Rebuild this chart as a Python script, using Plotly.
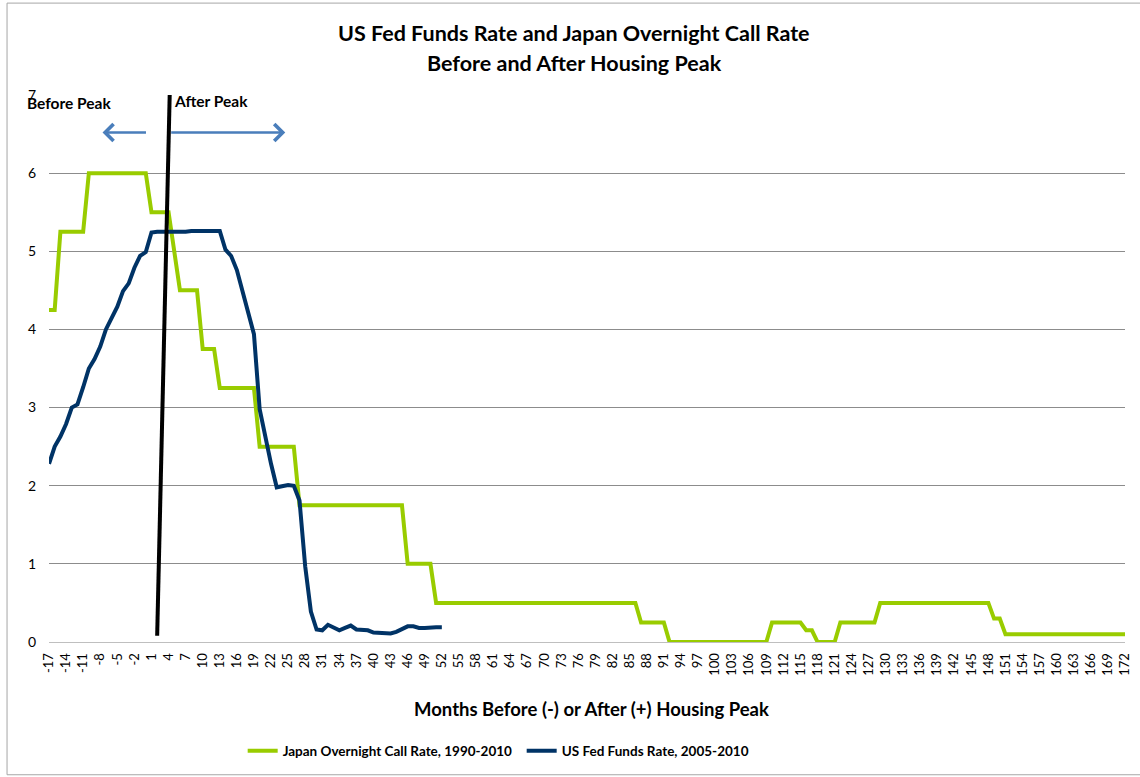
import plotly.graph_objects as go

# months relative to housing peak (0 = peak month)
months = list(range(-17, 173))

# Japan official / overnight call rate, 1990-2010 (%), one value per month from -17 to 172
japan_rate = [
    4.25, 4.25, 5.25, 5.25, 5.25, 5.25, 5.25, 6.0, 6.0, 6.0,
    6.0, 6.0, 6.0, 6.0, 6.0, 6.0, 6.0, 6.0, 5.5, 5.5,
    5.5, 5.5, 5.0, 4.5, 4.5, 4.5, 4.5, 3.75, 3.75, 3.75,
    3.25, 3.25, 3.25, 3.25, 3.25, 3.25, 3.25, 2.5, 2.5, 2.5,
    2.5, 2.5, 2.5, 2.5, 1.75, 1.75, 1.75, 1.75, 1.75, 1.75,
    1.75, 1.75, 1.75, 1.75, 1.75, 1.75, 1.75, 1.75, 1.75, 1.75,
    1.75, 1.75, 1.75, 1.0, 1.0, 1.0, 1.0, 1.0, 0.5, 0.5,
    0.5, 0.5, 0.5, 0.5, 0.5, 0.5, 0.5, 0.5, 0.5, 0.5,
    0.5, 0.5, 0.5, 0.5, 0.5, 0.5, 0.5, 0.5, 0.5, 0.5,
    0.5, 0.5, 0.5, 0.5, 0.5, 0.5, 0.5, 0.5, 0.5, 0.5,
    0.5, 0.5, 0.5, 0.5, 0.25, 0.25, 0.25, 0.25, 0.25, 0.0,
    0.0, 0.0, 0.0, 0.0, 0.0, 0.0, 0.0, 0.0, 0.0, 0.0,
    0.0, 0.0, 0.0, 0.0, 0.0, 0.0, 0.0, 0.25, 0.25, 0.25,
    0.25, 0.25, 0.25, 0.15, 0.15, 0.0, 0.0, 0.0, 0.0, 0.25,
    0.25, 0.25, 0.25, 0.25, 0.25, 0.25, 0.5, 0.5, 0.5, 0.5,
    0.5, 0.5, 0.5, 0.5, 0.5, 0.5, 0.5, 0.5, 0.5, 0.5,
    0.5, 0.5, 0.5, 0.5, 0.5, 0.5, 0.3, 0.3, 0.1, 0.1,
    0.1, 0.1, 0.1, 0.1, 0.1, 0.1, 0.1, 0.1, 0.1, 0.1,
    0.1, 0.1, 0.1, 0.1, 0.1, 0.1, 0.1, 0.1, 0.1, 0.1,
]

# US effective fed funds rate, Jan 2005 - Oct 2010 (%), months -17 to 52
us_months = list(range(-17, 53))
us_rate = [
    2.28, 2.50, 2.63, 2.79, 3.00, 3.04, 3.26, 3.50, 3.62, 3.78, 4.00, 4.16,
    4.29, 4.49, 4.59, 4.79, 4.94, 4.99, 5.24, 5.25, 5.25, 5.25, 5.25, 5.24,
    5.25, 5.26, 5.26, 5.25, 5.25, 5.25, 5.26, 5.02, 4.94, 4.76, 4.49, 4.24,
    3.94, 2.98, 2.61, 2.28, 1.98, 2.00, 2.01, 2.00, 1.81, 0.97, 0.39, 0.16,
    0.15, 0.22, 0.18, 0.15, 0.18, 0.21, 0.16, 0.16, 0.15, 0.12, 0.12, 0.12,
    0.11, 0.13, 0.16, 0.20, 0.20, 0.18, 0.18, 0.19, 0.19, 0.19,
]

tick_months = list(range(-17, 173, 3))
tick_labels = [str(m) for m in tick_months]

# hand-drawn peak marker and arrows (in month / rate units)
peak_line_x = [2.0, 4.2]
peak_line_y = [0.08, 7.0]
left_arrow_x = [0.3, -7.6]
right_arrow_x = [4.2, 24.5]
arrow_y = 6.52

GREEN = "#99CC00"
NAVY = "#003366"
FONT = "Lato, 'Open Sans', sans-serif"

fig = go.Figure()

fig.add_trace(
    go.Scatter(
        x=months,
        y=japan_rate,
        mode="lines",
        name="<b>Japan Overnight Call Rate, 1990-2010</b>",
        line=dict(color=GREEN, width=4),
    )
)
fig.add_trace(
    go.Scatter(
        x=us_months,
        y=us_rate,
        mode="lines",
        name="<b>US Fed Funds Rate, 2005-2010</b>",
        line=dict(color=NAVY, width=4),
    )
)

fig.add_shape(
    type="line",
    xref="x",
    yref="y",
    x0=peak_line_x[0],
    y0=peak_line_y[0],
    x1=peak_line_x[1],
    y1=peak_line_y[1],
    line=dict(color="black", width=4),
)

for tail, head in (left_arrow_x, right_arrow_x):
    fig.add_annotation(
        x=head,
        y=arrow_y,
        ax=tail,
        ay=arrow_y,
        xref="x",
        yref="y",
        axref="x",
        ayref="y",
        text="",
        showarrow=True,
        arrowhead=4,
        arrowsize=1.3,
        arrowwidth=2.5,
        arrowcolor="#4A7EBB",
    )

# chart border
fig.add_shape(
    type="rect",
    xref="paper",
    yref="paper",
    x0=-0.039,
    x1=1.03,
    y0=-0.2427,
    y1=1.168,
    line=dict(color="#A6A6A6", width=1),
)

fig.add_annotation(
    text="<b>US Fed Funds Rate and Japan Overnight Call Rate</b>",
    xref="paper", yref="paper", x=0.488, y=1.1131,
    xanchor="center", yanchor="middle", showarrow=False,
    font=dict(size=21.5, color="black", family=FONT),
)
fig.add_annotation(
    text="<b>Before and After Housing Peak</b>",
    xref="paper", yref="paper", x=0.488, y=1.0584,
    xanchor="center", yanchor="middle", showarrow=False,
    font=dict(size=21.5, color="black", family=FONT),
)
fig.add_annotation(
    text="<b>Before Peak</b>",
    xref="paper", yref="paper", x=-0.0223, y=0.9854,
    xanchor="left", yanchor="middle", showarrow=False,
    font=dict(size=15.5, color="black", family=FONT),
)
fig.add_annotation(
    text="<b>After Peak</b>",
    xref="paper", yref="paper", x=0.1143, y=0.989,
    xanchor="left", yanchor="middle", showarrow=False,
    font=dict(size=15.5, color="black", family=FONT),
)
fig.add_annotation(
    text="<b>Months Before (-) or After (+) Housing Peak</b>",
    xref="paper", yref="paper", x=0.5046, y=-0.1223,
    xanchor="center", yanchor="middle", showarrow=False,
    font=dict(size=18.5, color="black", family=FONT),
)

fig.update_layout(
    width=1140,
    height=777,
    margin=dict(l=49, r=15, t=95, b=134),
    paper_bgcolor="white",
    plot_bgcolor="white",
    font=dict(family=FONT, color="black"),
    showlegend=True,
    legend=dict(
        orientation="h",
        x=0.18,
        y=-0.197,
        xanchor="left",
        yanchor="middle",
        font=dict(size=13.5, color="black", family=FONT),
        itemwidth=30,
        entrywidth=234,
    ),
    xaxis=dict(
        range=[-17, 172],
        tickmode="array",
        tickvals=tick_months,
        ticktext=tick_labels,
        tickangle=-90,
        tickfont=dict(size=13, color="black"),
        ticklabelstandoff=5,
        showgrid=False,
        zeroline=False,
        showline=True,
        linecolor="#BFBFBF",
        linewidth=1,
        ticks="",
        automargin=False,
    ),
    yaxis=dict(
        range=[0, 7],
        dtick=1,
        tickfont=dict(size=14, color="black"),
        showgrid=True,
        gridcolor="#8C8C8C",
        gridwidth=1,
        zeroline=False,
        showline=False,
        ticks="",
        ticklabelstandoff=12,
        automargin=False,
    ),
)

fig.write_html(
    "out.html",
    config={"displayModeBar": False},
    post_script="document.body.style.margin = '0';",
)
